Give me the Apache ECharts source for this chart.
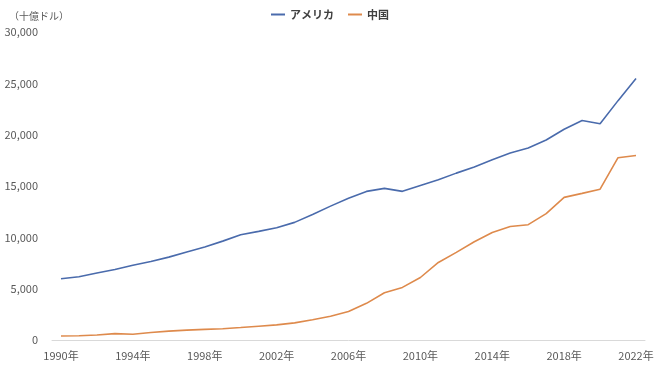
<!DOCTYPE html>
<html><head><meta charset="utf-8">
<script src="https://cdn.jsdelivr.net/npm/echarts@6/dist/echarts.min.js"></script>
<style>html,body{margin:0;padding:0;background:#fff}#c{width:660px;height:371px}</style>
</head><body><div id="c"></div>
<script>
const years = ['1990年','1991年','1992年','1993年','1994年','1995年','1996年','1997年','1998年','1999年','2000年','2001年','2002年','2003年','2004年','2005年','2006年','2007年','2008年','2009年','2010年','2011年','2012年','2013年','2014年','2015年','2016年','2017年','2018年','2019年','2020年','2021年','2022年'];
const usa = [5963,6158,6520,6859,7287,7639,8073,8577,9062,9631,10251,10582,10929,11456,12217,13039,13815,14474,14770,14478,15049,15600,16254,16843,17551,18206,18695,19477,20533,21381,21060,23315,25464];
const china = [396,413,492,621,566,736,867,966,1034,1097,1214,1344,1477,1671,1966,2309,2772,3571,4604,5121,6087,7552,8532,9570,10476,11062,11233,12310,13895,14280,14688,17759,17963];
const unitLabel = '（十億ドル）';
const font = '"Noto Sans CJK JP", sans-serif';
const chart = echarts.init(document.getElementById('c'));
chart.setOption({
  animation:false,
  textStyle:{fontFamily:font},
  title:{text:unitLabel,left:4,top:6,textStyle:{fontSize:10,fontWeight:'normal',color:'#595959',fontFamily:font}},
  legend:{top:4,left:'center',icon:'rect',itemWidth:14,itemHeight:2,itemGap:14,
    textStyle:{fontSize:11,fontWeight:'bold',color:'#404040',fontFamily:font},
    data:['アメリカ','中国']},
  grid:{left:52,right:15,top:32,bottom:31},
  xAxis:{type:'category',data:years,boundaryGap:true,
    axisLine:{lineStyle:{color:'#d9d9d9'}},axisTick:{show:false},
    axisLabel:{interval:3,color:'#595959',fontSize:11,margin:10,fontFamily:font}},
  yAxis:{type:'value',min:0,max:30000,interval:5000,
    splitLine:{show:false},axisLine:{show:false},axisTick:{show:false},
    axisLabel:{color:'#595959',fontSize:11,margin:14,fontFamily:font,
      formatter:v=>v.toLocaleString('en-US')}},
  series:[
    {name:'アメリカ',type:'line',data:usa,showSymbol:false,symbol:'none',lineStyle:{color:'#4A6BAC',width:1.6},itemStyle:{color:'#4A6BAC'}},
    {name:'中国',type:'line',data:china,showSymbol:false,symbol:'none',lineStyle:{color:'#DE8A4C',width:1.6},itemStyle:{color:'#DE8A4C'}}
  ]
});
</script></body></html>
